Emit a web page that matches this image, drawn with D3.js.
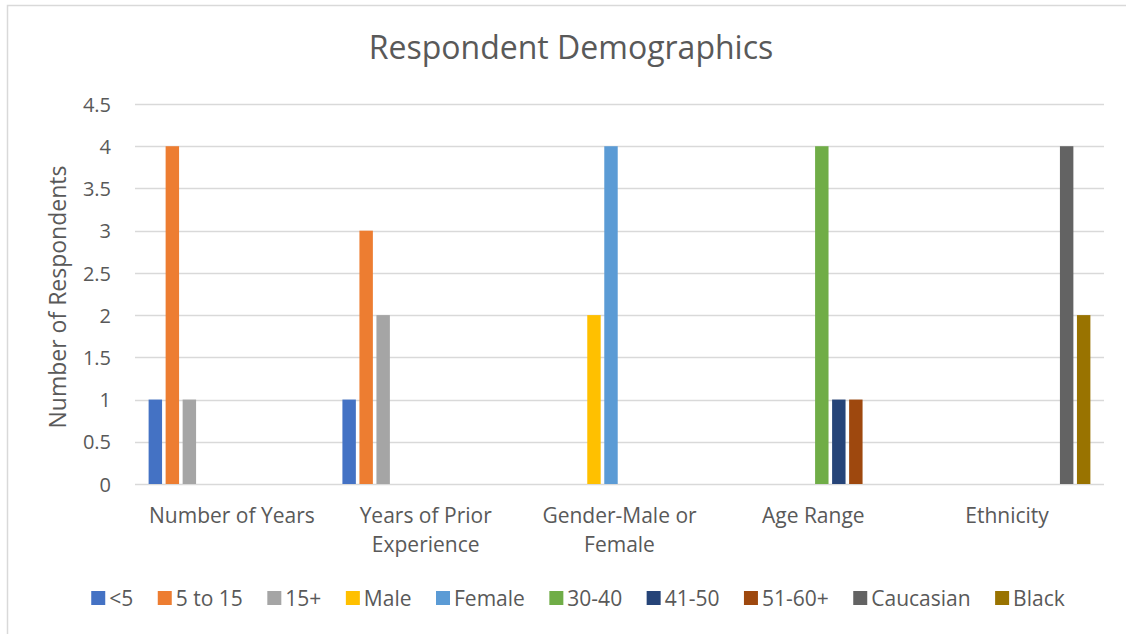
<!DOCTYPE html>
<html>
<head>
<meta charset="utf-8">
<script src="https://cdn.jsdelivr.net/npm/d3@7/dist/d3.min.js"></script>
<style>
    html, body { margin: 0; padding: 0; background: #ffffff; }
    svg { display: block; font-family: "Open Sans", "Noto Sans", sans-serif; }
    .tick-label, .cat-label, .legend-label { fill: #595959; }
    .tick-label { font-size: 20px; }
    .cat-label, .legend-label { font-size: 21px; }
</style>
</head>
<body>
<div id="chart"></div>
<script>
// chart data
const categories = [
    ['Number of Years'],
    ['Years of Prior', 'Experience'],
    ['Gender-Male or', 'Female'],
    ['Age Range'],
    ['Ethnicity']
];
const seriesNames = ['<5', '5 to 15', '15+', 'Male', 'Female', '30-40', '41-50', '51-60+', 'Caucasian', 'Black'];
const seriesColors = ['#4472c4', '#ed7d31', '#a5a5a5', '#ffc000', '#5b9bd5', '#70ad47', '#264478', '#9e480e', '#636363', '#997300'];
// one row per category, one value per series (0 = no bar)
const values = [
    [1, 4, 1, 0, 0, 0, 0, 0, 0, 0],
    [1, 3, 2, 0, 0, 0, 0, 0, 0, 0],
    [0, 0, 0, 2, 4, 0, 0, 0, 0, 0],
    [0, 0, 0, 0, 0, 4, 1, 1, 0, 0],
    [0, 0, 0, 0, 0, 0, 0, 0, 4, 2]
];
const yTicks = [0, 0.5, 1, 1.5, 2, 2.5, 3, 3.5, 4, 4.5];

const width = 1126;
const height = 634;
const plot = { left: 135, right: 1104, top: 104, bottom: 484 };

const svg = d3.select('#chart')
    .append('svg')
    .attr('width', width)
    .attr('height', height);

// outer chart border (runs off the right/bottom of the picture)
svg.append('rect')
    .attr('x', 7.5)
    .attr('y', 5.5)
    .attr('width', 1140)
    .attr('height', 650)
    .attr('fill', 'none')
    .attr('stroke', '#d9d9d9')
    .attr('stroke-width', 1.5);

const catKeys = categories.map((c) => c.join(' '));

const x0 = d3.scaleBand()
    .domain(catKeys)
    .range([plot.left, plot.right])
    .padding(0);

const x1 = d3.scaleBand()
    .domain(seriesNames)
    .range([0, x0.bandwidth()])
    .paddingInner(0.21)
    .paddingOuter(0.8);

const y = d3.scaleLinear()
    .domain([0, 4.5])
    .range([plot.bottom, plot.top]);

// gridlines
svg.append('g')
    .selectAll('line')
    .data(yTicks)
    .enter()
    .append('line')
    .attr('x1', plot.left)
    .attr('x2', plot.right)
    .attr('y1', (d) => Math.round(y(d)) + 0.5)
    .attr('y2', (d) => Math.round(y(d)) + 0.5)
    .attr('stroke', '#d9d9d9')
    .attr('stroke-width', 1.4);

// y axis labels
const yAxis = svg.append('g')
    .attr('transform', `translate(${plot.left - 24}, 0)`)
    .call(d3.axisLeft(y).tickValues(yTicks).tickSize(0).tickPadding(0).tickFormat(d3.format('')));
yAxis.select('.domain').remove();
yAxis.attr('font-family', null).attr('font-size', null);
yAxis.selectAll('text')
    .attr('class', 'tick-label')
    .attr('fill', null)
    .attr('dy', '0.36em');

svg.append('text')
    .attr('class', 'tick-label')
    .attr('transform', `translate(66, ${(plot.top + plot.bottom) / 2 + 3}) rotate(-90)`)
    .attr('text-anchor', 'middle')
    .style('font-size', '23px')
    .text('Number of Respondents');

// bars
const groups = svg.append('g')
    .selectAll('g')
    .data(values)
    .enter()
    .append('g')
    .attr('transform', (d, i) => `translate(${x0(catKeys[i])}, 0)`);

groups.selectAll('rect')
    .data((row) => row.map((v, j) => ({ key: seriesNames[j], value: v, color: seriesColors[j] })))
    .enter()
    .filter((d) => d.value > 0)
    .append('rect')
    .attr('x', (d) => x1(d.key))
    .attr('width', x1.bandwidth())
    .attr('y', (d) => y(d.value))
    .attr('height', (d) => y(0) - y(d.value))
    .attr('fill', (d) => d.color);

// category labels
const catLabels = svg.append('g')
    .selectAll('text')
    .data(categories)
    .enter()
    .append('text')
    .attr('class', 'cat-label')
    .attr('text-anchor', 'middle')
    .attr('x', (d, i) => x0(catKeys[i]) + x0.bandwidth() / 2)
    .attr('y', 523);

catLabels.selectAll('tspan')
    .data((d) => d)
    .enter()
    .append('tspan')
    .attr('x', function () { return this.parentNode.getAttribute('x'); })
    .attr('dy', (d, i) => (i === 0 ? 0 : 29))
    .text((d) => d);

// title
svg.append('text')
    .attr('x', 571)
    .attr('y', 59)
    .attr('text-anchor', 'middle')
    .attr('fill', '#595959')
    .style('font-size', '32px')
    .text('Respondent Demographics');

// legend, laid out left to right then centered
const legendGap = 24.5;
const legend = svg.append('g');
let cursor = 0;
seriesNames.forEach((name, i) => {
    const item = legend.append('g').attr('transform', `translate(${cursor}, 0)`);
    item.append('rect')
        .attr('x', 0)
        .attr('y', -7)
        .attr('width', 14)
        .attr('height', 14)
        .attr('fill', seriesColors[i]);
    const label = item.append('text')
        .attr('class', 'legend-label')
        .attr('x', 18)
        .attr('y', 0)
        .attr('dy', '0.36em')
        .text(name);
    cursor += 18 + label.node().getComputedTextLength() + legendGap;
});
const legendWidth = cursor - legendGap;
legend.attr('transform', `translate(${578 - legendWidth / 2}, 598)`);
</script>
</body>
</html>
